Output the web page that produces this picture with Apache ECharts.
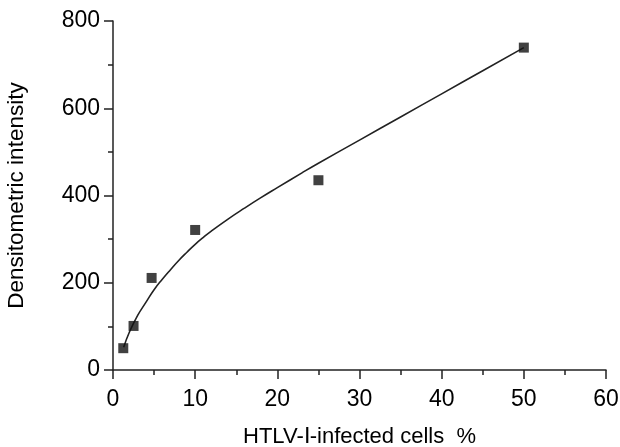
<!DOCTYPE html>
<html>
<head>
<meta charset="utf-8">
<script src="https://cdn.jsdelivr.net/npm/echarts@6/dist/echarts.min.js"></script>
<style>
html,body{margin:0;padding:0;background:#fff;}
#chart{width:620px;height:447px;}
</style>
</head>
<body>
<div id="chart"></div>
<script>
// Measured points (HTLV-I-infected cells %, densitometric intensity)
const pointX = [1.25, 2.5, 4.7, 10, 25, 50];
const pointY = [50, 101, 211, 321, 435, 739];
// Fitted curve
const curveX = [1.3, 2, 3, 4, 5, 6, 7, 8, 9, 10, 11, 12, 14, 16, 18, 20, 23, 25, 30, 35, 40, 45, 50];
const curveY = [52, 87, 125, 155, 184, 208, 230, 251, 270, 288, 304, 319, 346, 371, 395, 418, 452, 474, 527, 580, 633, 686, 739];
// Axis settings
const xTicks = [0, 10, 20, 30, 40, 50, 60];
const yTicks = [0, 200, 400, 600, 800];
const xTitle = 'HTLV-Ⅰ-infected cells  %';
const yTitle = 'Densitometric intensity';

const font = "'Liberation Sans', Arial, Helvetica, sans-serif";
const ink = '#000000';
const axisCommon = {
  axisLine: { show: true, onZero: false, lineStyle: { color: '#222', width: 1.5 } },
  axisTick: { show: true, inside: false, length: 9, lineStyle: { color: '#222', width: 1.5 } },
  minorTick: { show: true, splitNumber: 2, length: 5, lineStyle: { color: '#222', width: 1.5 } },
  splitLine: { show: false },
  minorSplitLine: { show: false }
};

const chart = echarts.init(document.getElementById('chart'));
chart.setOption({
  animation: false,
  backgroundColor: '#ffffff',
  grid: { left: 113, right: 14, top: 21, bottom: 77, containLabel: false, outerBoundsMode: 'none' },
  xAxis: Object.assign({
    type: 'value',
    min: xTicks[0], max: xTicks[xTicks.length - 1], interval: 10,
    name: xTitle, nameLocation: 'middle', nameGap: 56,
    nameTextStyle: { fontFamily: font, fontSize: 22, color: ink },
    axisLabel: { fontFamily: font, fontSize: 23, color: ink, margin: 18 }
  }, axisCommon),
  yAxis: Object.assign({
    type: 'value',
    min: yTicks[0], max: yTicks[yTicks.length - 1], interval: 200,
    name: yTitle, nameLocation: 'middle', nameGap: 85,
    nameTextStyle: { fontFamily: font, fontSize: 22.5, color: ink },
    axisLabel: { fontFamily: font, fontSize: 23, color: ink, margin: 13 }
  }, axisCommon),
  series: [
    {
      type: 'line',
      data: curveX.map((x, i) => [x, curveY[i]]),
      smooth: 0.5,
      showSymbol: false,
      symbol: 'none',
      lineStyle: { color: '#222', width: 1.6 },
      z: 2
    },
    {
      type: 'scatter',
      data: pointX.map((x, i) => [x, pointY[i]]),
      symbol: 'rect',
      symbolSize: 10,
      itemStyle: { color: '#111111' },
      z: 3
    }
  ]
});
</script>
</body>
</html>
